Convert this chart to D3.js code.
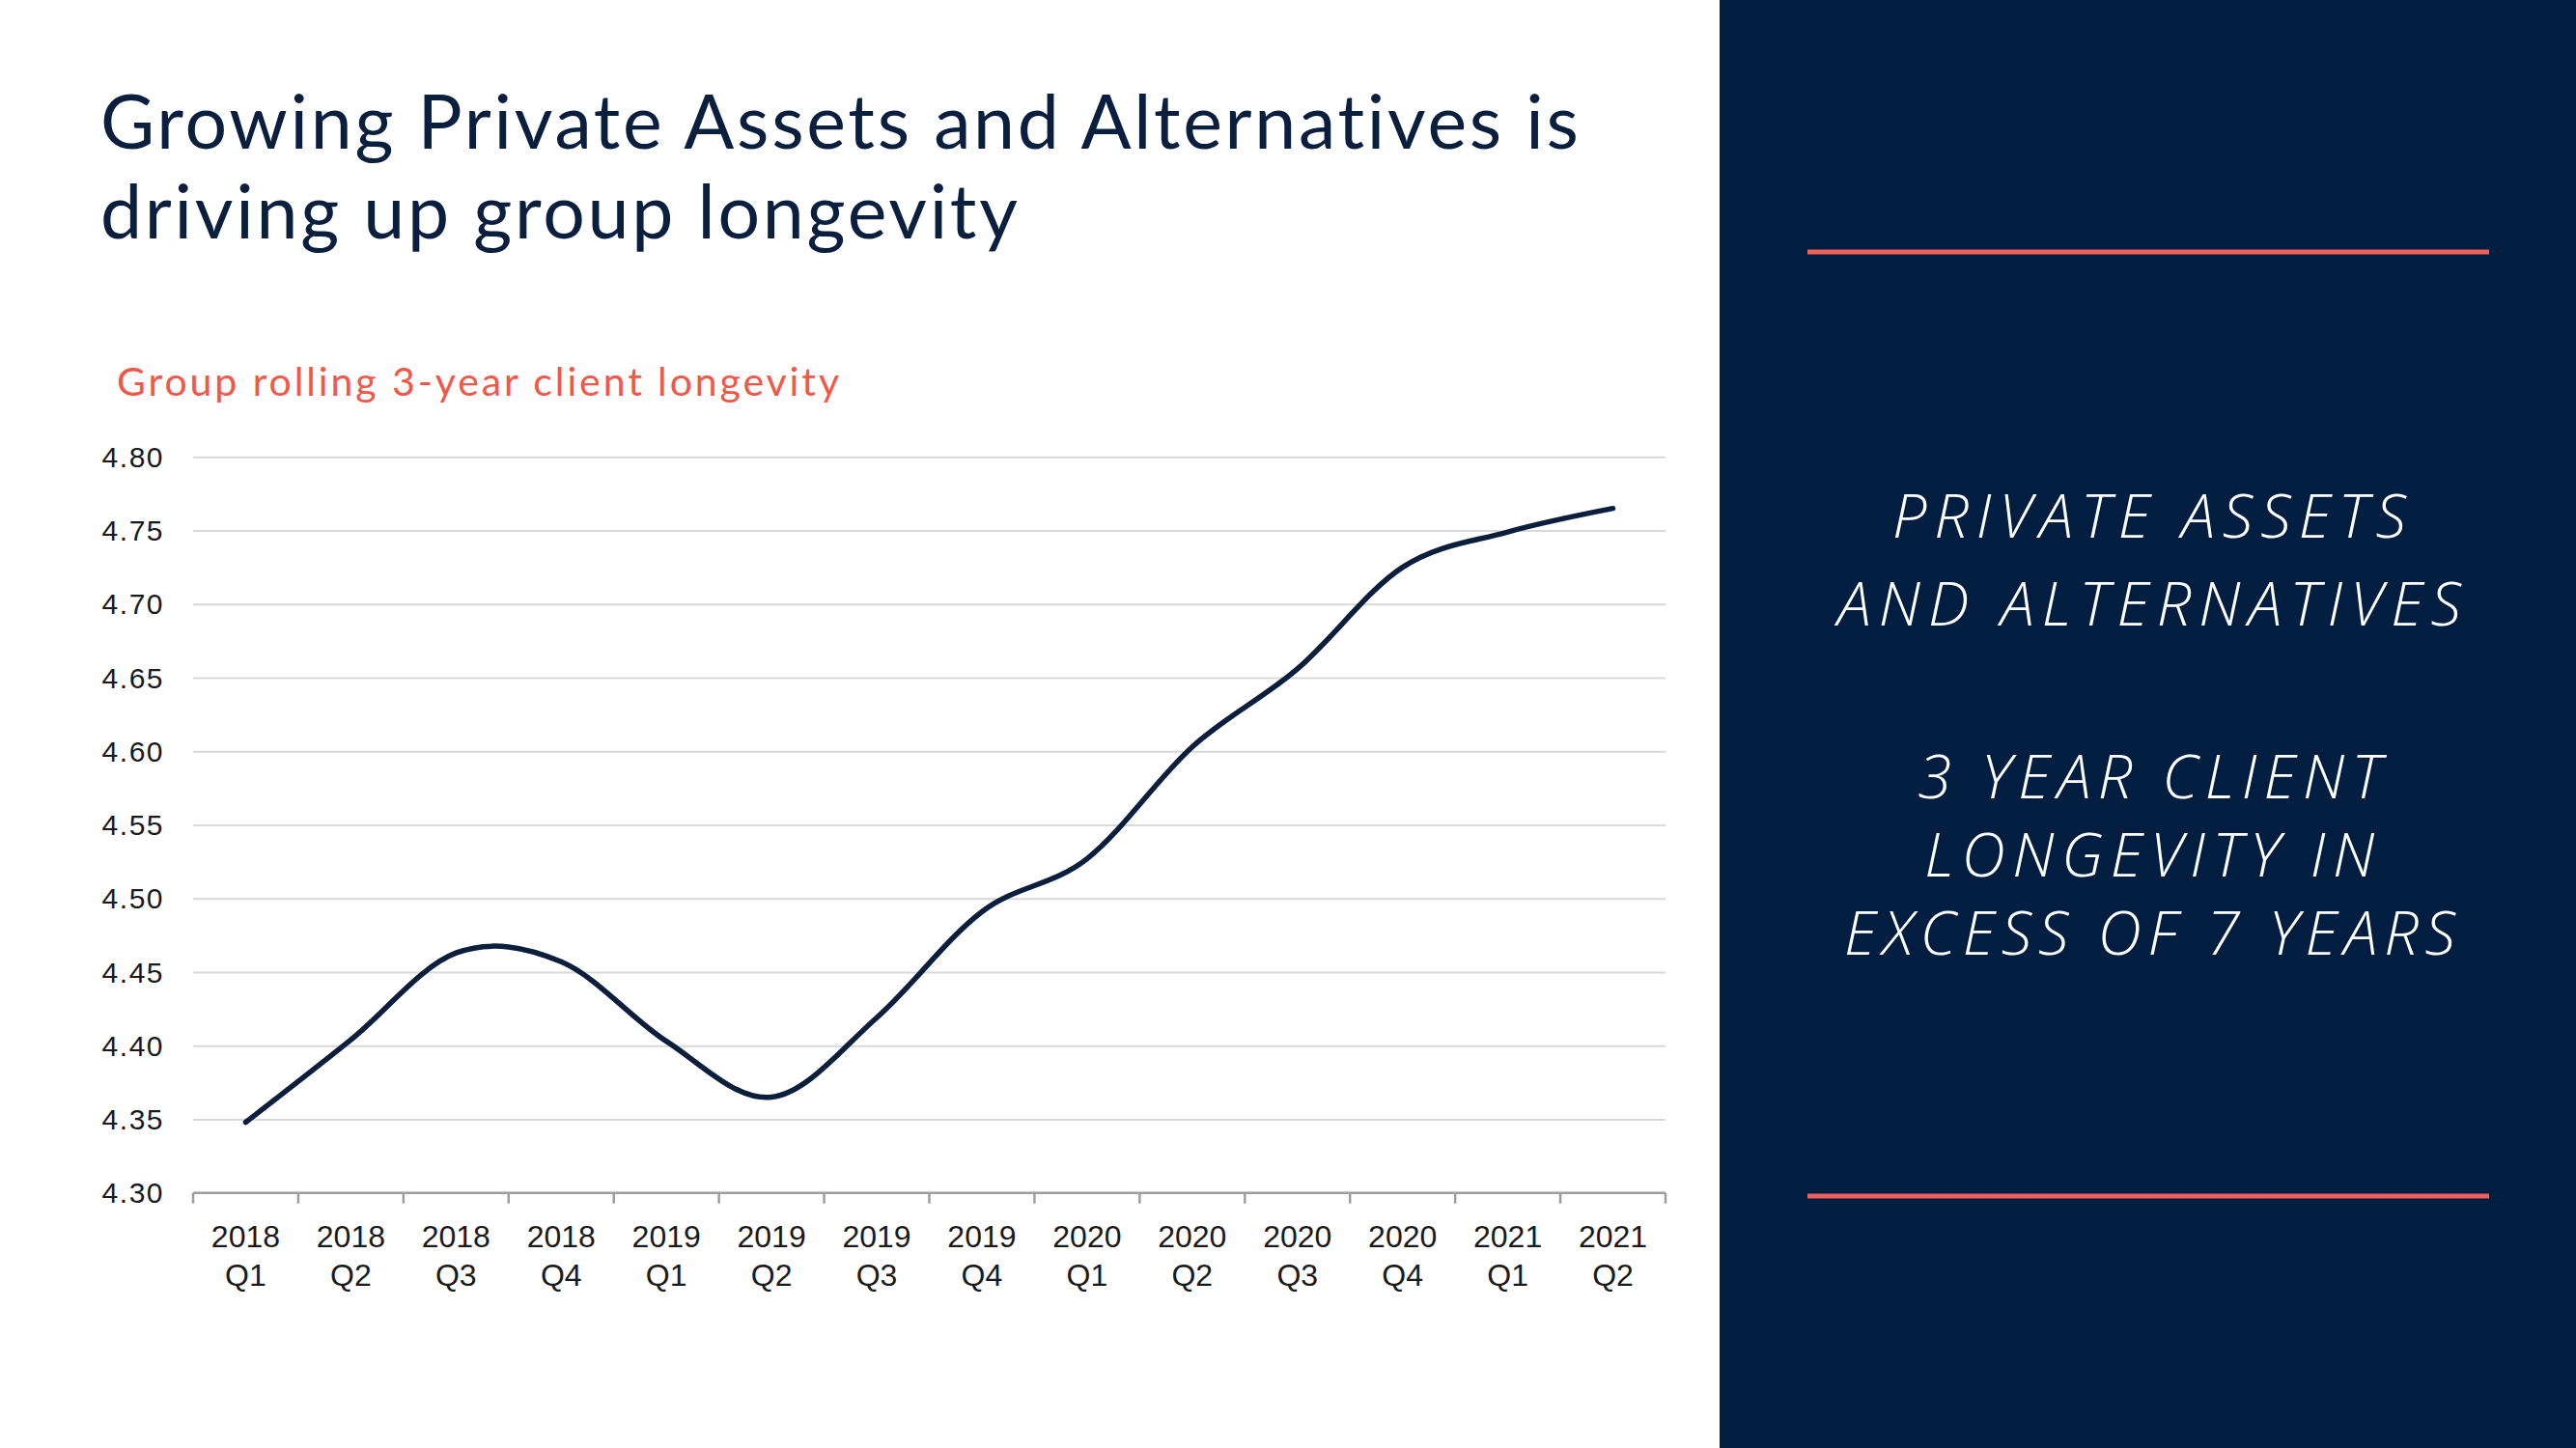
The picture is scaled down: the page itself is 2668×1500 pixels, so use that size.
<!DOCTYPE html>
<html>
<head>
<meta charset="utf-8">
<script src="https://cdn.jsdelivr.net/npm/d3@7/dist/d3.min.js"></script>
<style>
  html, body { margin: 0; padding: 0; background: #ffffff; }
  svg { display: block; }
</style>
</head>
<body>
<svg id="chart" width="2668" height="1500"></svg>
<script>
// ---------------- DATA ----------------
const titleLines = ["Growing Private Assets and Alternatives is", "driving up group longevity"];
const subtitle = "Group rolling 3-year client longevity";
const categories = ["2018 Q1","2018 Q2","2018 Q3","2018 Q4","2019 Q1","2019 Q2","2019 Q3",
                    "2019 Q4","2020 Q1","2020 Q2","2020 Q3","2020 Q4","2021 Q1","2021 Q2"];
const values = [4.348, 4.404, 4.463, 4.457, 4.403, 4.365, 4.419,
                4.491, 4.527, 4.603, 4.656, 4.725, 4.749, 4.765];
const yTicks = [4.30, 4.35, 4.40, 4.45, 4.50, 4.55, 4.60, 4.65, 4.70, 4.75, 4.80];
const panelLines = ["PRIVATE ASSETS", "AND ALTERNATIVES", "3 YEAR CLIENT", "LONGEVITY IN", "EXCESS OF 7 YEARS"];

// ---------------- LAYOUT ----------------
const W = 2668, H = 1500;
const navy = "#011E41";
const coral = "#F0584A";
const svg = d3.select("#chart");

svg.append("rect").attr("x", 0).attr("y", 0).attr("width", W).attr("height", H).attr("fill", "#ffffff");

// helper: fit a text element to a target width using letter-spacing
function fitWidth(sel, target) {
  const node = sel.node();
  const len = node.getComputedTextLength();
  const n = node.textContent.length;
  const ls = n > 1 ? (target - len) / (n - 1) : 0;
  sel.attr("letter-spacing", ls.toFixed(2) + "px");
  return ls;
}

// Title
const titleBaselines = [154, 247];
let titleLS = 0;
titleLines.forEach((t, i) => {
  const el = svg.append("text")
    .attr("x", 104).attr("y", titleBaselines[i])
    .attr("font-family", "Lato, 'Noto Sans', sans-serif")
    .attr("font-size", 77).attr("font-weight", 400)
    .attr("fill", "#0A1F3E")
    .text(t);
  if (i === 0) titleLS = fitWidth(el, 1532);
  else el.attr("letter-spacing", titleLS.toFixed(2) + "px");
});

// Subtitle
const sub = svg.append("text")
  .attr("x", 121).attr("y", 410)
  .attr("font-family", "Lato, 'Noto Sans', sans-serif")
  .attr("font-size", 41).attr("font-weight", 400)
  .attr("fill", coral)
  .text(subtitle);
fitWidth(sub, 748);

// ---------------- CHART ----------------
const x = d3.scaleBand().domain(categories).range([200, 1725]).padding(0);
const y = d3.scaleLinear().domain([4.30, 4.80]).range([1235.7, 473.3]);

// gridlines + y labels via axis
const yAxis = d3.axisLeft(y)
  .tickValues(yTicks)
  .tickFormat(d3.format(".2f"))
  .tickSize(-(x.range()[1] - x.range()[0]))
  .tickPadding(30);

const gy = svg.append("g").attr("transform", `translate(${x.range()[0]},0)`).call(yAxis);
gy.select(".domain").remove();
gy.selectAll(".tick line")
  .attr("stroke", "#D9D9D9").attr("stroke-width", 2)
  .attr("display", d => d === 4.30 ? "none" : null);
gy.selectAll(".tick text")
  .attr("font-family", "'Liberation Sans', Arial, sans-serif")
  .attr("font-size", 30)
  .attr("letter-spacing", "1.5px")
  .attr("fill", "#1A1A1A")
  .attr("dy", "0.34em");

// x axis line at 4.30
const axisY = y(4.30);
svg.append("line")
  .attr("x1", x.range()[0]).attr("x2", x.range()[1])
  .attr("y1", axisY).attr("y2", axisY)
  .attr("stroke", "#9E9E9E").attr("stroke-width", 2.5);

// tick marks at band boundaries
const boundaries = categories.map(c => x(c)).concat([x.range()[1]]);
svg.append("g").selectAll("line").data(boundaries).join("line")
  .attr("x1", d => d).attr("x2", d => d)
  .attr("y1", axisY).attr("y2", axisY + 11)
  .attr("stroke", "#9E9E9E").attr("stroke-width", 2.5);

// x labels (two lines)
const xl = svg.append("g").selectAll("text").data(categories).join("text")
  .attr("text-anchor", "middle")
  .attr("font-family", "'Liberation Sans', Arial, sans-serif")
  .attr("font-size", 32)
  .attr("fill", "#1A1A1A");
xl.append("tspan")
  .attr("x", d => x(d) + x.bandwidth() / 2).attr("y", 1292)
  .text(d => d.split(" ")[0]);
xl.append("tspan")
  .attr("x", d => x(d) + x.bandwidth() / 2).attr("y", 1332)
  .text(d => d.split(" ")[1]);

// line
const line = d3.line()
  .x((d, i) => x(categories[i]) + x.bandwidth() / 2)
  .y(d => y(d))
  .curve(d3.curveCatmullRom.alpha(0));

svg.append("path")
  .datum(values)
  .attr("d", line)
  .attr("fill", "none")
  .attr("stroke", "#0B1F3D")
  .attr("stroke-width", 5.5)
  .attr("stroke-linecap", "round")
  .attr("stroke-linejoin", "round");

// ---------------- RIGHT PANEL ----------------
svg.append("rect")
  .attr("x", 1781).attr("y", 0).attr("width", W - 1781).attr("height", H)
  .attr("fill", navy);

[261, 1239].forEach(yy => {
  svg.append("line")
    .attr("x1", 1872).attr("x2", 2578)
    .attr("y1", yy).attr("y2", yy)
    .attr("stroke", "#F0605A").attr("stroke-width", 5);
});

const panelBaselines = [557, 648, 827, 908, 989];
const panelWidths = [532, 646, 480, 466, 633];
const panelCx = 2230;
panelLines.forEach((t, i) => {
  const el = svg.append("text")
    .attr("x", panelCx).attr("y", panelBaselines[i])
    .attr("text-anchor", "middle")
    .attr("font-family", "'Open Sans', Lato, sans-serif")
    .attr("font-style", "italic")
    .attr("font-weight", 300)
    .attr("font-size", 63)
    .attr("fill", "#ffffff")
    .text(t);
  fitWidth(el, panelWidths[i]);
});
</script>
</body>
</html>
